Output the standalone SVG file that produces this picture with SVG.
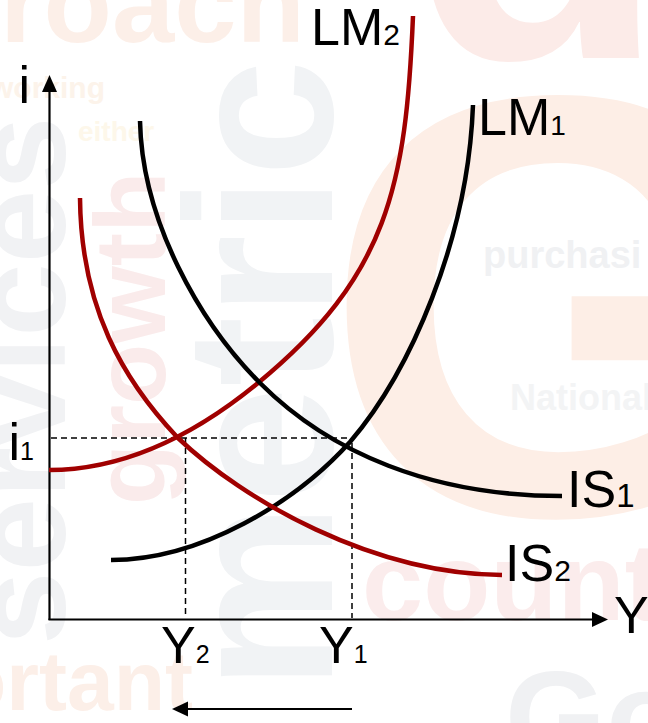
<svg xmlns="http://www.w3.org/2000/svg" width="648" height="723" viewBox="0 0 648 723">
<style>
.bg{font-family:"Liberation Sans",Arial,sans-serif;font-weight:bold}
.lbl{font-family:"Liberation Sans",Arial,sans-serif;font-size:52px;fill:#000}
.curve{fill:none;stroke-width:4.5;stroke-linecap:butt}
.blk{stroke:#000}
.red{stroke:#a00000}
.axis{stroke:#000;stroke-width:2.2;fill:none}
.dash{stroke:#000;stroke-width:1.5;stroke-dasharray:6 4;fill:none}
</style>
<rect width="648" height="723" fill="#ffffff"/>
<g id="background">
  <text class="bg" x="322" y="514" font-size="600" fill="#fdeee6">G</text>
  <text class="bg" x="410" y="58" font-size="420" font-weight="normal" fill="#fcebe8">d</text>
  <text class="bg" x="0" y="42" font-size="112" font-weight="normal" fill="#fcefe8">roach</text>
  <text class="bg" transform="translate(332,690) rotate(-90)" font-size="210" fill="#f1f3f5">metric</text>
  <text class="bg" transform="translate(165,505) rotate(-90)" font-size="100" fill="#faebeb">growth</text>
  <text class="bg" transform="translate(65,645) rotate(-90)" font-size="132" fill="#f1f2f4">services</text>
  <text class="bg" x="362" y="620" font-size="110" fill="#fbecec">count</text>
  <text class="bg" x="505" y="762" font-size="130" fill="#f0f1f3">Go</text>
  <text class="bg" x="-45" y="710" font-size="84" font-weight="normal" fill="#fcefe8">ortant</text>
  <text class="bg" x="483" y="268" font-size="38" fill="#f0f1f3">purchasi</text>
  <text class="bg" x="510" y="410" font-size="36" fill="#f3f4f5">National</text>
  <text class="bg" x="-10" y="98" font-size="30" fill="#fcf3ea">working</text>
  <text class="bg" x="78" y="141" font-size="28" fill="#fdf7ea">either</text>
</g>
<g id="axes">
  <line class="axis" x1="49.5" y1="620" x2="49.5" y2="90"/>
  <polygon points="49.5,75 42,92 57,92" fill="#000"/>
  <line class="axis" x1="48.5" y1="619.5" x2="594" y2="619.5"/>
  <polygon points="608,619.5 592,612 592,627" fill="#000"/>
  <text id="label-i" class="lbl" x="18.5" y="103">i</text>
  <text id="label-Y" class="lbl" x="614" y="633">Y</text>
</g>
<g id="connectors">
  <line class="dash" x1="51" y1="438" x2="347" y2="438"/>
  <line class="dash" x1="185.5" y1="438" x2="185.5" y2="618"/>
  <line class="dash" x1="352" y1="443" x2="352" y2="618"/>
  <line class="axis" x1="352" y1="709" x2="186" y2="709"/>
  <polygon points="172,709 188,701.5 188,716.5" fill="#000"/>
</g>
<g id="LM2">
  <path class="curve red" d="M49,470 C119,470 188,440.5 258,383 C388,276 406,186 413,16"/>
  <text class="lbl" x="311" y="45">LM<tspan font-size="30">2</tspan></text>
</g>
<g id="LM1">
  <path class="curve blk" d="M111,560 C201,560 296,502 350,442 C410,372 468,240 473,105"/>
  <text class="lbl" x="478" y="135">LM<tspan font-size="28">1</tspan></text>
</g>
<g id="IS1">
  <path class="curve blk" d="M140,121 C142,221 200,323 260,383 C330,453 432,496 562,496"/>
  <text class="lbl" x="567" y="507">IS<tspan font-size="33">1</tspan></text>
</g>
<g id="IS2">
  <path class="curve red" d="M80,198 C81,308 123,380 178,438 C243,500 372,574 502,575"/>
  <text class="lbl" x="505" y="581">IS<tspan font-size="30">2</tspan></text>
</g>
<g id="i1">
  <text class="lbl" x="8.5" y="460">i<tspan font-size="25">1</tspan></text>
</g>
<g id="Y2">
  <text class="lbl" x="161" y="663">Y<tspan font-size="25">2</tspan></text>
</g>
<g id="Y1">
  <text class="lbl" x="319" y="663">Y<tspan font-size="25">1</tspan></text>
</g>
</svg>
